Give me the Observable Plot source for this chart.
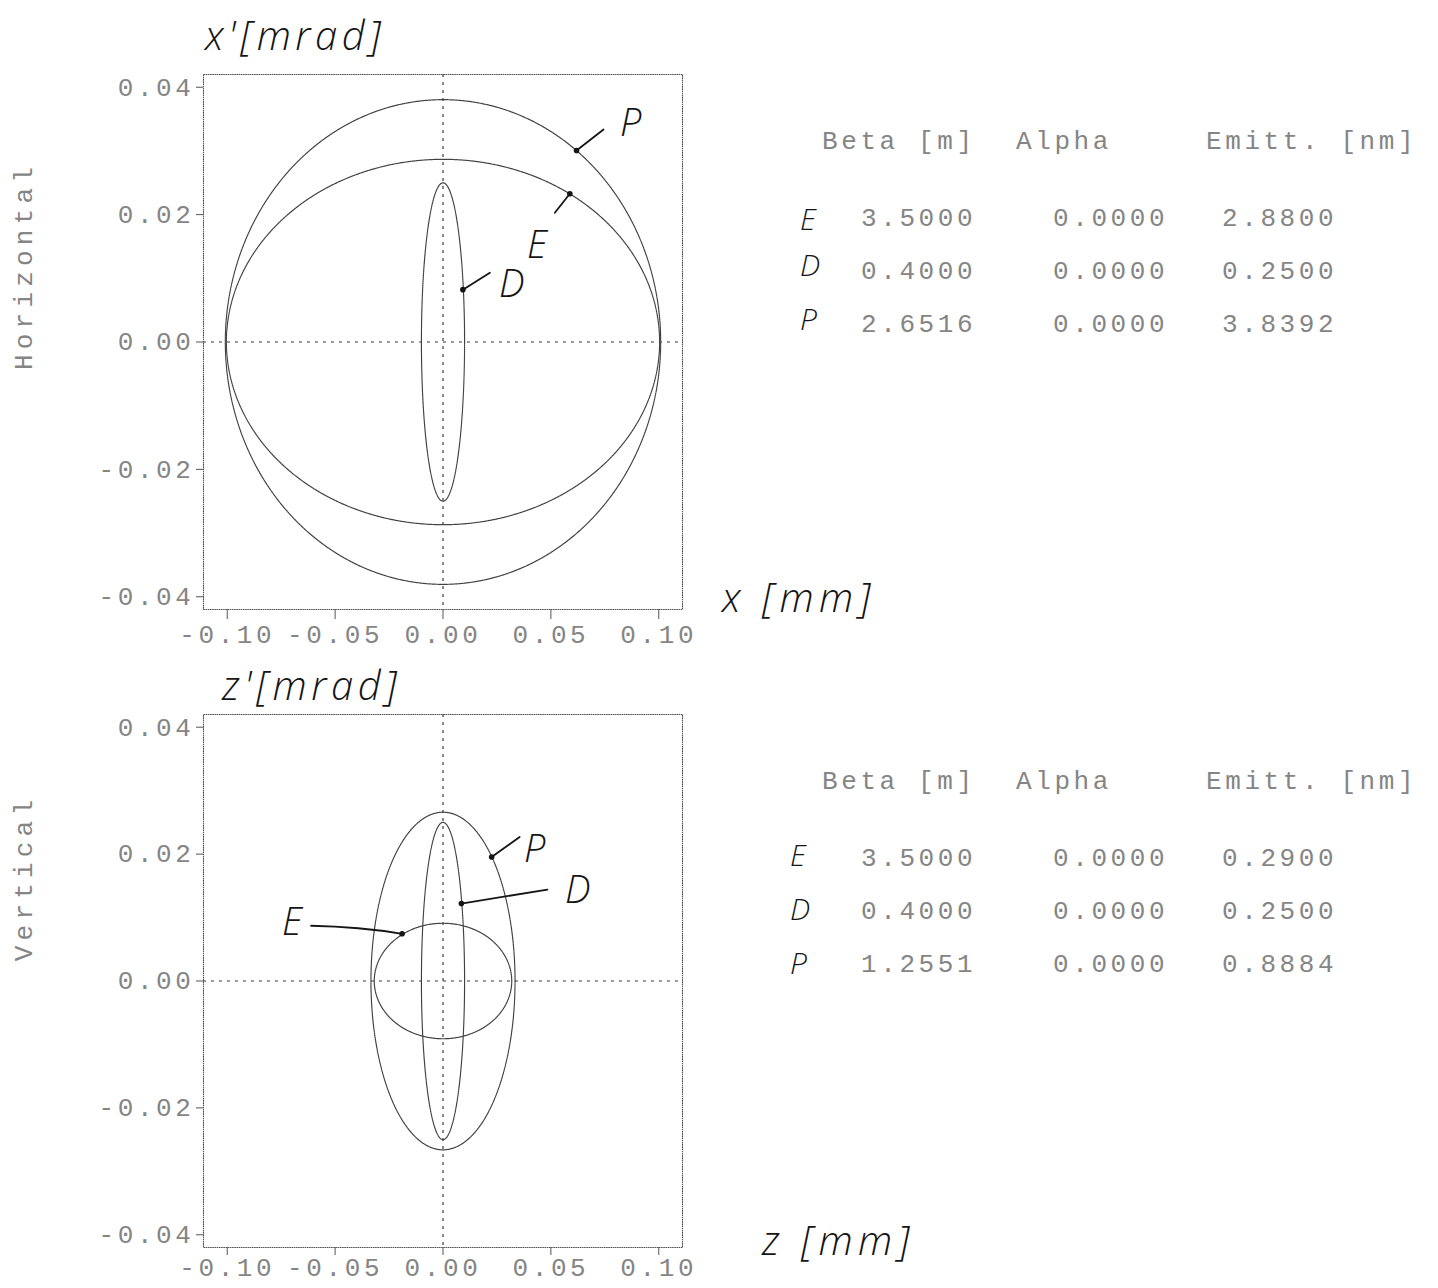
<!DOCTYPE html>
<html>
<head>
<meta charset="utf-8">
<script src="https://cdn.jsdelivr.net/npm/d3@7"></script>
<script src="https://cdn.jsdelivr.net/npm/@observablehq/plot@0.6"></script>
<style>
  body { margin: 0; background: #fff; }
  #page { position: relative; width: 1438px; height: 1288px; overflow: hidden; background: #fff; }
  #page svg.panel { position: absolute; left: 0; background: transparent; }
  /* dot-matrix printer lettering */
  .panel g[aria-label$="tick label"] text,
  .panel text.prn {
    font-family: "Liberation Mono", "DejaVu Sans Mono", monospace;
    font-size: 26px;
    letter-spacing: 3.6px;
    fill: #858585;
    stroke: none;
  }
  .panel text.prn { text-anchor: start; }
  .panel text.prn.side { letter-spacing: 5.2px; text-anchor: middle; }
  /* pen annotations */
  .panel text.hand {
    font-family: "Open Sans", "Noto Sans", sans-serif;
    font-weight: 300;
    font-style: italic;
    fill: #151515;
    stroke: none;
    text-anchor: start;
  }
</style>
</head>
<body>
<div id="page"></div>
<script>
// Twiss parameters of the three beams, per plane
const beams = ["E", "D", "P"];
const betaH = [3.5000, 0.4000, 2.6516];
const alphaH = [0.0000, 0.0000, 0.0000];
const emittH = [2.8800, 0.2500, 3.8392];
const betaV = [3.5000, 0.4000, 1.2551];
const alphaV = [0.0000, 0.0000, 0.0000];
const emittV = [0.2900, 0.2500, 0.8884];

const planeNames = ["Horizontal", "Vertical"];
const coordNames = ["x", "z"];
const tableHeader = ["Beta [m]", "Alpha", "Emitt. [nm]"];
const xTicks = [-0.10, -0.05, 0.00, 0.05, 0.10];
const yTicks = [-0.04, -0.02, 0.00, 0.02, 0.04];

// emittance in nm·rad, beta in m  ->  position in mm, angle in mrad
const UNIT = Math.sqrt(1e-9) * 1e3;

function twissPoint(beta, alpha, emitt, theta) {
  const a = Math.sqrt(emitt * beta) * UNIT;
  const b = Math.sqrt(emitt / beta) * UNIT;
  return {x: a * Math.cos(theta), y: b * (Math.sin(theta) - alpha * Math.cos(theta))};
}

function twissEllipse(beta, alpha, emitt, n = 360) {
  return d3.range(n + 1).map(k => twissPoint(beta, alpha, emitt, (2 * Math.PI * k) / n));
}

const fmt2 = d => (Math.abs(d) < 1e-12 ? 0 : d).toFixed(2);
const fmt4 = d => d.toFixed(4);

// each panel: svg starting at page row `top`, plot frame from page row `frameTop` to `frameBottom`
function drawPanel(host, p) {
  const rows = beams.flatMap((b, i) =>
    twissEllipse(p.beta[i], p.alpha[i], p.emitt[i]).map(pt => ({...pt, beam: b})));

  const height = p.bottom - p.top;
  const chart = Plot.plot({
    className: "panel",
    width: 1438,
    height,
    marginLeft: 203,
    marginRight: 756,
    marginTop: p.frameTop - p.top,
    marginBottom: p.bottom - p.frameBottom,
    x: {domain: [-0.111, 0.111]},
    y: {domain: [-0.042, 0.042]},
    marks: [
      Plot.ruleX([0], {stroke: "#3a3a3a", strokeWidth: 1.2, strokeDasharray: "3 5"}),
      Plot.ruleY([0], {stroke: "#3a3a3a", strokeWidth: 1.2, strokeDasharray: "3 5"}),
      Plot.line(rows, {x: "x", y: "y", z: "beam", stroke: "#404040", strokeWidth: 1.2, strokeDasharray: "1.2 0.8"}),
      Plot.frame({stroke: "#505050", strokeWidth: 1.1, strokeDasharray: "1.6 0.6"}),
      Plot.axisX({ticks: xTicks, tickFormat: fmt2, tickSize: p.xTick[0], tickPadding: p.xTick[1], label: null, stroke: "#555"}),
      Plot.axisY({ticks: yTicks, tickFormat: fmt2, tickSize: 7, tickPadding: 2, label: null, stroke: "#555"})
    ]
  });
  chart.style.top = p.top + "px";
  host.appendChild(chart);

  const sx = chart.scale("x"), sy = chart.scale("y");
  const svg = d3.select(chart);
  const Y = v => v - p.top;              // page row -> svg row
  const F = v => p.frameTop - p.top + v; // offset below the frame top -> svg row

  // plane name along the left edge
  svg.append("text").attr("class", "prn side")
    .attr("transform", `translate(32,${Y(p.sideY)}) rotate(-90)`)
    .text(p.name);

  // parameter table
  const colX = [861, 1053, 1222];
  const headX = [822, 1016, 1206];
  const rowY = [152, 205, 258];
  tableHeader.forEach((h, j) =>
    svg.append("text").attr("class", "prn").attr("x", headX[j]).attr("y", F(75)).text(h));
  beams.forEach((b, i) => {
    [p.beta[i], p.alpha[i], p.emitt[i]].forEach((v, j) =>
      svg.append("text").attr("class", "prn").attr("x", colX[j]).attr("y", F(rowY[i])).text(fmt4(v)));
    svg.append("text").attr("class", "hand")
      .attr("x", p.tableLetterX).attr("y", Y(p.tableLetterY[i]))
      .attr("font-size", 30).text(b);
  });

  // pen-written axis names
  svg.append("text").attr("class", "hand").attr("x", p.yTitle[0]).attr("y", Y(p.yTitle[1]))
    .attr("font-size", 40).attr("letter-spacing", 4.5).text(p.coord + "'[mrad]");
  svg.append("text").attr("class", "hand").attr("x", p.xTitle[0]).attr("y", Y(p.xTitle[1]))
    .attr("font-size", 40).attr("letter-spacing", 5.5).text(p.coord + " [mm]");

  // pen-written ellipse labels with leader lines
  const g = svg.append("g");
  p.notes.forEach(n => {
    const i = beams.indexOf(n.beam);
    const pt = twissPoint(p.beta[i], p.alpha[i], p.emitt[i], n.theta * Math.PI / 180);
    const px = sx.apply(pt.x), py = sy.apply(pt.y);
    const ex = px + n.lead[0], ey = py + n.lead[1];
    const mx = (px + ex) / 2 + (n.bend || 0), my = (py + ey) / 2 - (n.bend || 0);
    g.append("path").attr("d", `M${px},${py}Q${mx},${my} ${ex},${ey}`)
      .attr("fill", "none").attr("stroke", "#151515").attr("stroke-width", 1.8).attr("stroke-linecap", "round");
    g.append("circle").attr("cx", px).attr("cy", py).attr("r", 2.8).attr("fill", "#151515");
    g.append("text").attr("class", "hand").attr("font-size", 38)
      .attr("x", n.text[0]).attr("y", Y(n.text[1])).text(n.beam);
  });
}

const page = document.getElementById("page");

drawPanel(page, {
  name: planeNames[0], coord: coordNames[0],
  beta: betaH, alpha: alphaH, emitt: emittH,
  top: 0, frameTop: 74, frameBottom: 609, bottom: 652,
  xTick: [10, 5],
  sideY: 266,
  tableLetterX: 800, tableLetterY: [230, 276, 330],
  yTitle: [205, 50], xTitle: [722, 612],
  notes: [
    {beam: "P", theta: 52, lead: [27, -21], text: [620, 136]},
    {beam: "E", theta: 54, lead: [-15, 19], text: [527, 258]},
    {beam: "D", theta: 19, lead: [27, -17], text: [499, 297]}
  ]
});

drawPanel(page, {
  name: planeNames[1], coord: coordNames[1],
  beta: betaV, alpha: alphaV, emitt: emittV,
  top: 652, frameTop: 714, frameBottom: 1247, bottom: 1288,
  xTick: [8, 2],
  sideY: 878,
  tableLetterX: 790, tableLetterY: [866, 920, 974],
  yTitle: [222, 700], xTitle: [762, 1255],
  notes: [
    {beam: "P", theta: 47, lead: [28, -20], text: [524, 862]},
    {beam: "D", theta: 29, lead: [86, -14], text: [565, 903]},
    {beam: "E", theta: 126, lead: [-91, -8], text: [282, 935], bend: 3}
  ]
});
</script>
</body>
</html>
